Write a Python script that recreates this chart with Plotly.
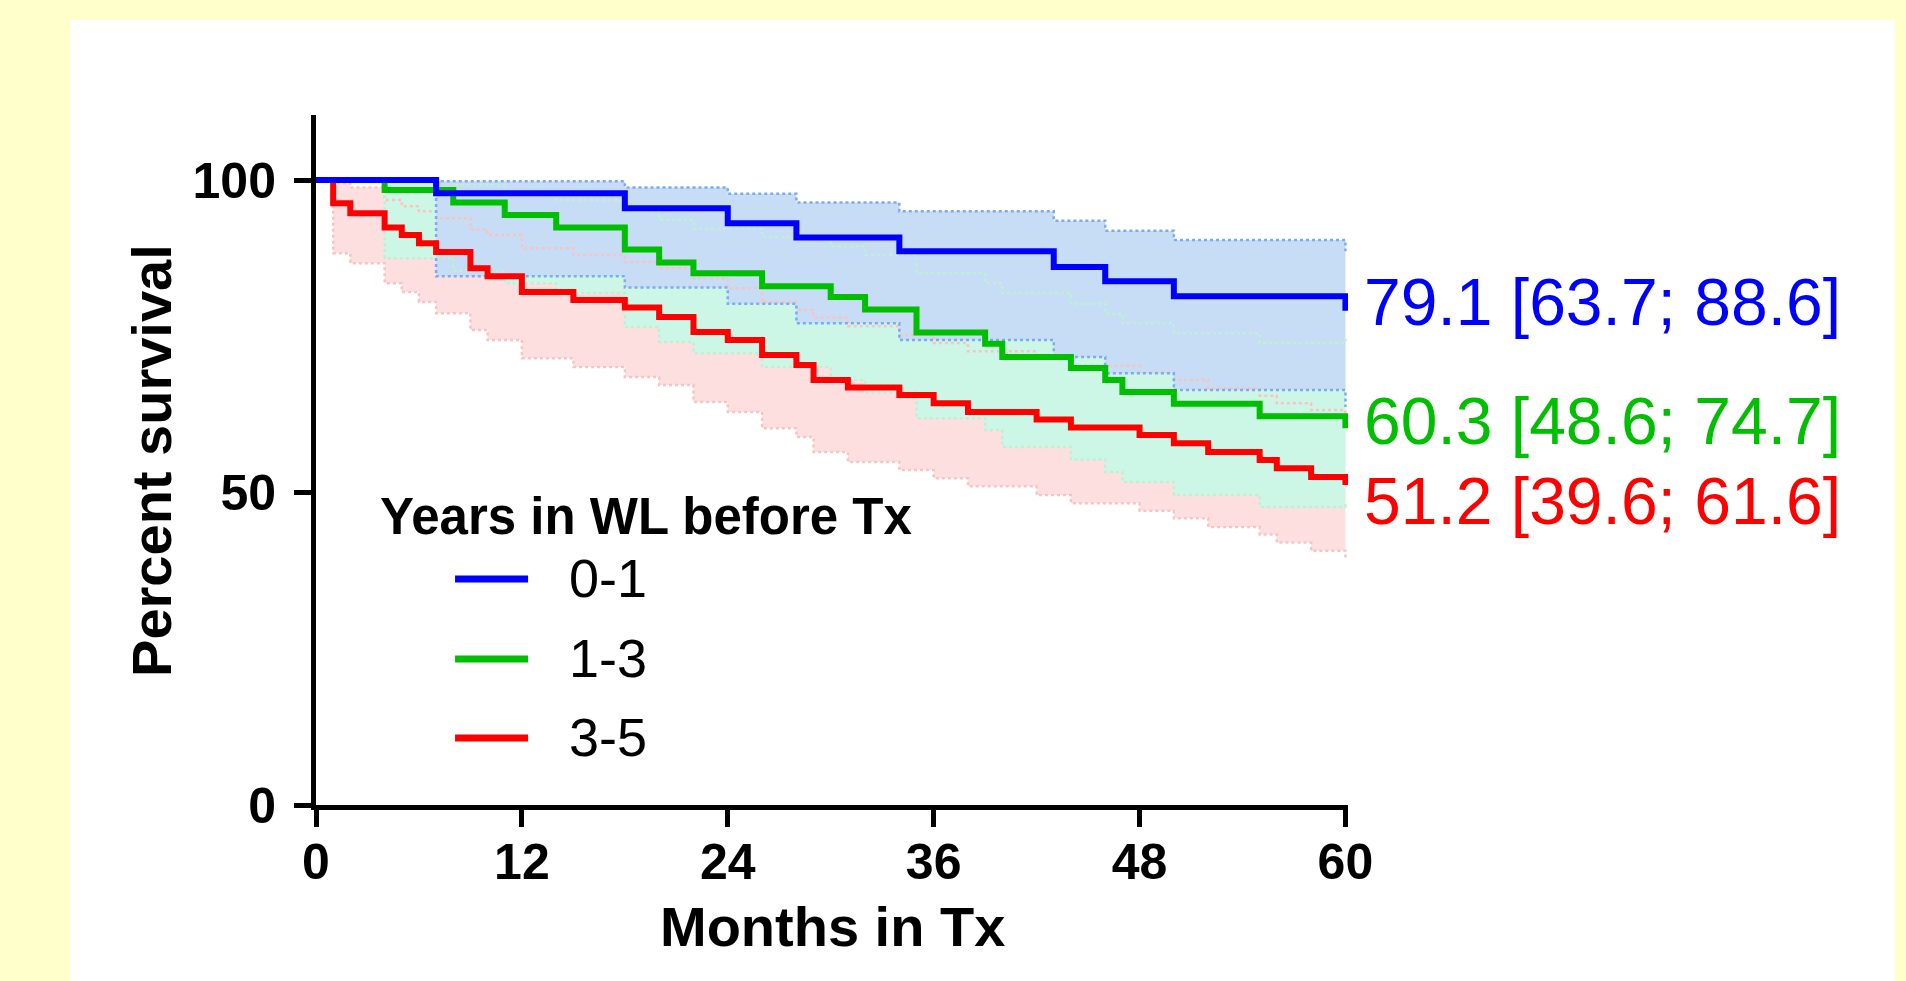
import plotly.graph_objects as go

# ---------------- data ----------------
months_01 = [0, 7, 18, 24, 28, 34, 43, 46, 50, 60]
surv_01 = [100, 97.9, 95.5, 93.1, 90.8, 88.6, 86.1, 83.8, 81.4, 79.1]
lo_01 = [100, 84.6, 82.8, 80.2, 77.1, 74.4, 71.7, 69.1, 66.4, 63.7]
hi_01 = [100, 99.8, 98.8, 97.8, 96.4, 95.0, 93.5, 91.9, 90.4, 88.6]

months_13 = [0, 4, 8, 11, 14, 18, 20, 22, 26, 30, 32, 35, 39, 40, 44, 46, 47, 50, 55, 60]
surv_13 = [100, 98.4, 96.4, 94.4, 92.4, 88.9, 86.8, 85.1, 83.0, 81.3, 79.3, 75.6, 73.8, 71.7,
           69.9, 68.0, 66.1, 64.2, 62.2, 60.3]
lo_13 = [100, 87.5, 85.5, 83.5, 81.9, 76.5, 74.1, 72.3, 70.1, 68.0, 66.0, 61.9, 60.0, 57.3,
         55.3, 53.3, 51.7, 49.6, 47.7, 48.6]
hi_13 = [100, 99.8, 99.2, 98.0, 96.8, 95.0, 93.6, 92.2, 90.9, 89.4, 88.0, 85.1, 83.5, 81.9,
         80.2, 78.6, 77.1, 75.5, 73.9, 74.7]

months_35 = [0, 1, 2, 4, 5, 6, 7, 9, 10, 12, 15, 18, 20, 22, 24, 26, 28, 29, 31, 34, 36, 38,
             42, 44, 48, 50, 52, 55, 56, 58, 60]
surv_35 = [100, 96.3, 94.7, 92.4, 91.2, 89.9, 88.5, 85.9, 84.6, 82.1, 80.8, 79.6, 78.1, 75.7,
           74.4, 72.0, 70.4, 68.0, 66.8, 65.6, 64.3, 62.9, 61.7, 60.4, 59.2, 57.9, 56.5, 55.2,
           53.9, 52.5, 51.2]
lo_35 = [100, 88.3, 86.7, 83.5, 82.1, 80.5, 78.7, 76.0, 74.4, 71.5, 70.1, 68.5, 67.2, 64.5,
         62.9, 60.3, 58.9, 56.5, 54.9, 53.6, 52.3, 51.0, 49.6, 48.3, 47.1, 45.9, 44.5, 43.3,
         42.0, 40.7, 39.6]
hi_35 = [100, 99.5, 98.8, 96.8, 95.8, 95.0, 93.9, 92.1, 91.2, 89.1, 88.0, 86.9, 85.9, 84.3,
         82.7, 80.5, 79.2, 78.0, 76.6, 75.2, 73.9, 72.6, 71.5, 70.3, 69.2, 68.0, 66.7, 65.5,
         64.3, 63.2, 61.6]

group_names = ["0-1", "1-3", "3-5"]
final_labels = ["79.1 [63.7; 88.6]", "60.3 [48.6; 74.7]", "51.2 [39.6; 61.6]"]
legend_title = "Years in WL before Tx"
x_title = "Months in Tx"
y_title = "Percent survival"
x_ticks = [0, 12, 24, 36, 48, 60]
y_ticks = [0, 50, 100]

# ---------------- styling ----------------
LINE_COL = {"0-1": "#0000FF", "1-3": "#00BF00", "3-5": "#FF0000"}
BAND_COL = {"0-1": "rgb(199,220,245)", "1-3": "rgb(204,247,230)", "3-5": "rgb(253,223,223)"}
DOT_COL = {"0-1": "rgb(125,170,240)", "1-3": "rgb(190,240,212)", "3-5": "rgb(250,195,195)"}
FONT = "Arial, Liberation Sans, Helvetica, sans-serif"

groups = {
    "0-1": (months_01, surv_01, lo_01, hi_01),
    "1-3": (months_13, surv_13, lo_13, hi_13),
    "3-5": (months_35, surv_35, lo_35, hi_35),
}

FIG_W, FIG_H = 1906, 981
L, T, B = 316, 115, 805
X_MAX = 60.15
Y_MAX = 110.4
PLOT_W = (1345 - L) * X_MAX / 60.0
R = FIG_W - L - PLOT_W
H = B - T


def px(X):
    return (X - L) / PLOT_W


def py(Y):
    return (B - Y) / H


fig = go.Figure()

# confidence bands (red underneath, blue on top)
draw_order = ["3-5", "1-3", "0-1"]
for g in draw_order:
    t, s, lo, hi = groups[g]
    fig.add_trace(go.Scatter(x=t, y=lo, mode="lines", line=dict(width=0, shape="hv"),
                             showlegend=False, hoverinfo="skip"))
    fig.add_trace(go.Scatter(x=t, y=hi, mode="lines", line=dict(width=0, shape="hv"),
                             fill="tonexty", fillcolor=BAND_COL[g],
                             showlegend=False, hoverinfo="skip"))

# dotted CI borders
for g in draw_order:
    t, s, lo, hi = groups[g]
    for arr in (lo, hi):
        fig.add_trace(go.Scatter(x=t, y=arr, mode="lines",
                                 line=dict(width=2.5, shape="hv", dash="dot", color=DOT_COL[g]),
                                 showlegend=False, hoverinfo="skip"))

# survival curves
for g in draw_order:
    t, s, lo, hi = groups[g]
    fig.add_trace(go.Scatter(x=t, y=s, mode="lines", name=g,
                             line=dict(width=6, shape="hv", color=LINE_COL[g]),
                             showlegend=False))

shapes = [
    dict(type="rect", xref="paper", yref="paper", x0=px(70), x1=px(1894), y0=py(20), y1=py(990),
         fillcolor="white", line=dict(width=0), layer="below"),
]
annotations = []

# custom legend
legend_y = {"0-1": 579, "1-3": 659, "3-5": 738}
for g in group_names:
    yy = py(legend_y[g])
    shapes.append(dict(type="line", xref="paper", yref="paper", x0=px(455), x1=px(528), y0=yy, y1=yy,
                       line=dict(color=LINE_COL[g], width=7)))
    annotations.append(dict(text=g, xref="paper", yref="paper", x=px(567), y=py(legend_y[g] - 1),
                            xanchor="left", yanchor="middle", showarrow=False,
                            font=dict(family=FONT, size=54, color="black")))
annotations.append(dict(text=legend_title, xref="paper", yref="paper", x=px(378), y=py(516),
                        xanchor="left", yanchor="middle", showarrow=False,
                        font=dict(family=FONT, size=51, color="black", weight="bold")))

# final value labels
label_y = {"0-1": 302, "1-3": 421, "3-5": 501}
for g, txt in zip(group_names, final_labels):
    annotations.append(dict(text=txt, xref="paper", yref="paper", x=px(1362), y=py(label_y[g]),
                            xanchor="left", yanchor="middle", showarrow=False,
                            font=dict(family=FONT, size=66, color=LINE_COL[g])))

# axis titles
annotations.append(dict(text=x_title, xref="paper", yref="paper", x=px(832), y=py(926),
                        xanchor="center", yanchor="middle", showarrow=False,
                        font=dict(family=FONT, size=56, color="black", weight="bold")))
annotations.append(dict(text=y_title, xref="paper", yref="paper", x=px(151), y=py(460),
                        xanchor="center", yanchor="middle", showarrow=False, textangle=-90,
                        font=dict(family=FONT, size=56, color="black", weight="bold")))

fig.update_layout(
    width=FIG_W, height=FIG_H,
    margin=dict(l=L, r=R, t=T, b=FIG_H - B, pad=0),
    paper_bgcolor="rgb(255,255,204)",
    plot_bgcolor="white",
    shapes=shapes,
    annotations=annotations,
    showlegend=False,
    xaxis=dict(range=[0, X_MAX], tickvals=x_ticks, ticktext=[str(v) for v in x_ticks],
               showgrid=False, zeroline=False, showline=True, linecolor="black", linewidth=5,
               ticks="outside", ticklen=17, tickwidth=4.5, tickcolor="black",
               ticklabelstandoff=-8,
               tickfont=dict(family=FONT, size=50, color="black", weight="bold")),
    yaxis=dict(range=[0, Y_MAX], tickvals=y_ticks, ticktext=[str(v) for v in y_ticks],
               showgrid=False, zeroline=False, showline=True, linecolor="black", linewidth=5,
               ticks="outside", ticklen=17, tickwidth=4.5, tickcolor="black",
               ticklabelstandoff=8,
               tickfont=dict(family=FONT, size=50, color="black", weight="bold")),
)

fig.write_html("out.html", config={"displayModeBar": False},
               post_script="document.body.style.margin='0';document.body.style.overflow='hidden';")
